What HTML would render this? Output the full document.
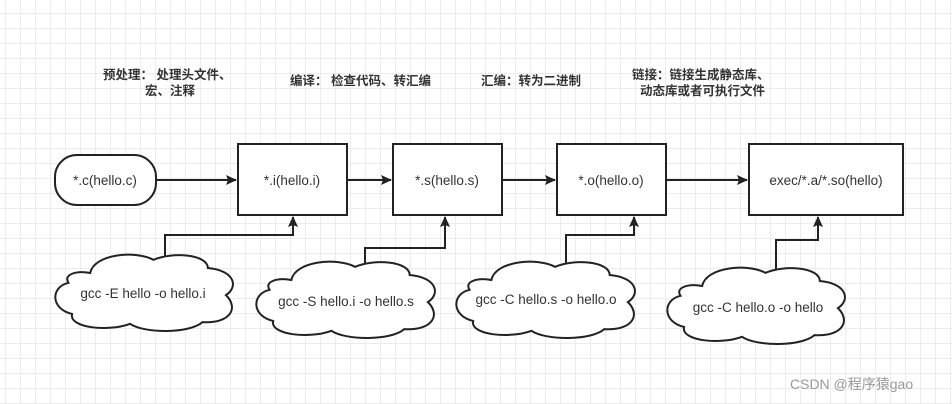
<!DOCTYPE html>
<html><head><meta charset="utf-8"><style>
html,body{margin:0;padding:0;background:#fff}
svg{display:block}
text{font-family:"Liberation Sans","Noto Sans CJK SC",sans-serif;fill:#333}
.t{font-size:13.5px}
.c{font-size:12.5px;font-weight:bold;fill:#222}
</style></head><body>
<svg width="952" height="404" viewBox="0 0 952 404" xmlns="http://www.w3.org/2000/svg">
<defs>
<pattern id="g" x="5" y="13" width="15" height="15" patternUnits="userSpaceOnUse">
<path d="M0 0.5H15M0.5 0V15" stroke="#ececec" stroke-width="1" fill="none"/>
</pattern>
<marker id="a" markerWidth="12" markerHeight="12" refX="10" refY="5" orient="auto" markerUnits="userSpaceOnUse"><path d="M0,0 L11,5 L0,10 L2,5 Z" fill="#222"/></marker>
</defs>
<rect width="952" height="404" fill="url(#g)"/>
<g fill="#fff" stroke="#222" stroke-width="2">
<rect x="55" y="155" width="101" height="50" rx="22"/>
<rect x="238" y="144" width="109" height="71"/>
<rect x="393" y="144" width="109" height="71"/>
<rect x="557" y="144" width="109" height="71"/>
<rect x="749" y="144" width="154" height="71"/>
</g>
<g fill="none" stroke="#222" stroke-width="2" marker-end="url(#a)">
<path d="M156 180H236"/>
<path d="M347 180H391"/>
<path d="M502 180H555"/>
<path d="M666 180H747"/>
<path d="M165 256V235H293V217"/>
<path d="M365 263V248H445V217"/>
<path d="M566 263V235H634V217"/>
<path d="M776 269V240H818V217"/>
</g>
<g fill="#fff" stroke="#222">
<path d="M0.2,0.28 C0.22,0.05 0.45,0.0 0.55,0.12 C0.65,0.02 0.85,0.05 0.85,0.22 C1.0,0.25 1.02,0.45 0.95,0.55 C1.02,0.7 0.98,0.9 0.82,0.88 C0.75,1.02 0.5,1.02 0.42,0.9 C0.3,1.0 0.08,0.95 0.1,0.78 C-0.02,0.72 -0.02,0.45 0.08,0.4 C0.05,0.3 0.12,0.25 0.2,0.28 Z" transform="translate(54,250) scale(181,82)" stroke-width="2" vector-effect="non-scaling-stroke"/>
<path d="M0.2,0.28 C0.22,0.05 0.45,0.0 0.55,0.12 C0.65,0.02 0.85,0.05 0.85,0.22 C1.0,0.25 1.02,0.45 0.95,0.55 C1.02,0.7 0.98,0.9 0.82,0.88 C0.75,1.02 0.5,1.02 0.42,0.9 C0.3,1.0 0.08,0.95 0.1,0.78 C-0.02,0.72 -0.02,0.45 0.08,0.4 C0.05,0.3 0.12,0.25 0.2,0.28 Z" transform="translate(255,257) scale(182,82)" stroke-width="2" vector-effect="non-scaling-stroke"/>
<path d="M0.2,0.28 C0.22,0.05 0.45,0.0 0.55,0.12 C0.65,0.02 0.85,0.05 0.85,0.22 C1.0,0.25 1.02,0.45 0.95,0.55 C1.02,0.7 0.98,0.9 0.82,0.88 C0.75,1.02 0.5,1.02 0.42,0.9 C0.3,1.0 0.08,0.95 0.1,0.78 C-0.02,0.72 -0.02,0.45 0.08,0.4 C0.05,0.3 0.12,0.25 0.2,0.28 Z" transform="translate(455,257) scale(182,82)" stroke-width="2" vector-effect="non-scaling-stroke"/>
<path d="M0.2,0.28 C0.22,0.05 0.45,0.0 0.55,0.12 C0.65,0.02 0.85,0.05 0.85,0.22 C1.0,0.25 1.02,0.45 0.95,0.55 C1.02,0.7 0.98,0.9 0.82,0.88 C0.75,1.02 0.5,1.02 0.42,0.9 C0.3,1.0 0.08,0.95 0.1,0.78 C-0.02,0.72 -0.02,0.45 0.08,0.4 C0.05,0.3 0.12,0.25 0.2,0.28 Z" transform="translate(666,263) scale(181,82)" stroke-width="2" vector-effect="non-scaling-stroke"/>
</g>
<g class="t" text-anchor="middle">
<text x="105" y="185">*.c(hello.c)</text>
<text x="292" y="185">*.i(hello.i)</text>
<text x="447" y="185">*.s(hello.s)</text>
<text x="611" y="185">*.o(hello.o)</text>
<text x="826" y="185">exec/*.a/*.so(hello)</text>
<text x="143" y="298">gcc -E hello -o hello.i</text>
<text x="346" y="306">gcc -S hello.i -o hello.s</text>
<text x="546" y="304">gcc -C hello.s -o hello.o</text>
<text x="758" y="312">gcc -C hello.o -o hello</text>
</g>
<g class="c">
<text x="103" y="79">预处理：  处理头文件、</text>
<text x="145" y="95">宏、注释</text>
<text x="290" y="85">编译：  检查代码、转汇编</text>
<text x="481" y="85">汇编：转为二进制</text>
<text x="632" y="79">链接：链接生成静态库、</text>
<text x="640" y="95">动态库或者可执行文件</text>
</g>
<text x="790" y="389" style="font-size:14px;fill:#999">CSDN @程序猿gao</text>
</svg>
</body></html>
